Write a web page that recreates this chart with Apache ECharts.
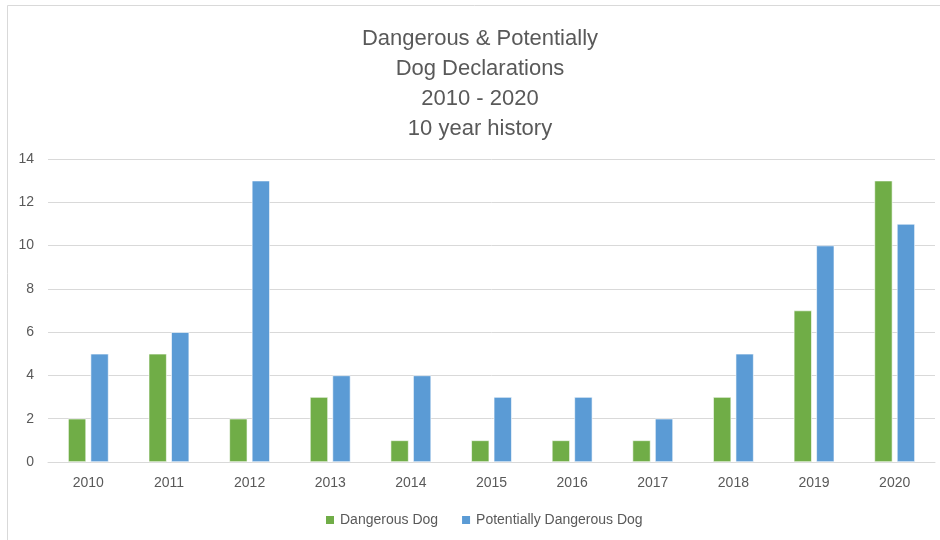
<!DOCTYPE html>
<html>
<head>
<meta charset="utf-8">
<script src="https://cdn.jsdelivr.net/npm/echarts@6/dist/echarts.min.js"></script>
<style>
  html, body { margin: 0; padding: 0; background: #fff; }
  #chart { width: 940px; height: 540px; }
</style>
</head>
<body>
<div id="chart"></div>
<script>
// Declarations per year
const years = ['2010', '2011', '2012', '2013', '2014', '2015', '2016', '2017', '2018', '2019', '2020'];
const dangerousDog = [2, 5, 2, 3, 1, 1, 1, 1, 3, 7, 13];
const potentiallyDangerousDog = [5, 6, 13, 4, 4, 3, 3, 2, 5, 10, 11];
const seriesNames = ['Dangerous Dog', 'Potentially Dangerous Dog'];
const titleLines = ['Dangerous & Potentially', 'Dog Declarations', '2010 - 2020', '10 year history'];

const FONT = '"Liberation Sans", Arial, sans-serif';
const TEXT = '#595959';
const GRID = '#d9d9d9';

const chart = echarts.init(document.getElementById('chart'), null, { renderer: 'canvas' });

chart.setOption({
  backgroundColor: '#ffffff',
  animation: false,
  title: {
    text: titleLines.join('\n'),
    left: 475,
    textAlign: 'center',
    top: 19,
    textStyle: {
      fontFamily: FONT,
      fontSize: 22,
      fontWeight: 'normal',
      color: TEXT,
      lineHeight: 30
    }
  },
  graphic: [{
    type: 'rect',
    shape: { x: 7.5, y: 5.5, width: 1000, height: 1000 },
    style: { fill: 'none', stroke: GRID, lineWidth: 1 },
    silent: true
  }],
  legend: {
    bottom: 8,
    left: 319,
    itemWidth: 10,
    itemHeight: 10,
    itemGap: 22,
    icon: 'rect',
    textStyle: { fontFamily: FONT, fontSize: 14, color: TEXT },
    data: seriesNames
  },
  grid: { left: 48, right: 5, top: 159, bottom: 78 },
  xAxis: {
    type: 'category',
    data: years,
    axisLine: { lineStyle: { color: GRID } },
    axisTick: { show: false },
    axisLabel: { fontFamily: FONT, fontSize: 14, color: TEXT, margin: 14 }
  },
  yAxis: {
    type: 'value',
    min: 0,
    max: 14,
    interval: 2,
    axisLine: { show: false },
    axisTick: { show: false },
    splitLine: { lineStyle: { color: GRID } },
    axisLabel: { fontFamily: FONT, fontSize: 14, color: TEXT, margin: 14 }
  },
  series: [
    {
      name: seriesNames[0],
      type: 'bar',
      data: dangerousDog,
      barWidth: 18,
      barGap: '25%',
      itemStyle: { color: '#70AD47', borderColor: '#ffffff', borderWidth: 0.6 }
    },
    {
      name: seriesNames[1],
      type: 'bar',
      data: potentiallyDangerousDog,
      barWidth: 18,
      itemStyle: { color: '#5B9BD5', borderColor: '#ffffff', borderWidth: 0.6 }
    }
  ]
});
</script>
</body>
</html>
